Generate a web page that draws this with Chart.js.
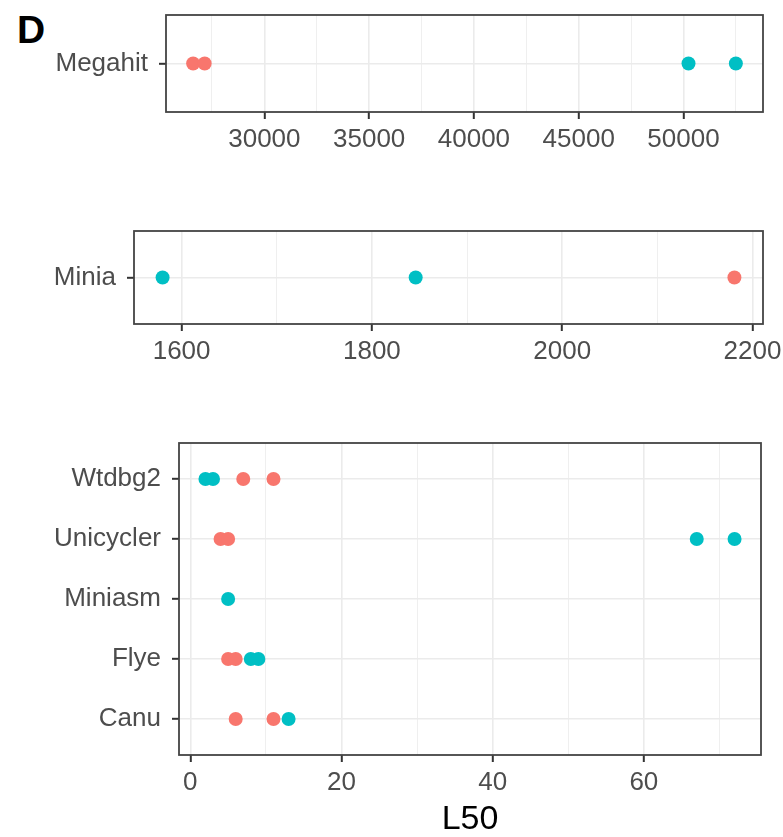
<!DOCTYPE html>
<html>
<head>
<title>L50</title>
<script src="https://cdn.jsdelivr.net/npm/chart.js"></script>
<style>
    body { margin: 0; width: 783px; height: 837px; background: #fff; position: relative; overflow: hidden; }
    canvas { position: absolute; left: 0; }
    #tag { position: absolute; left: 17px; top: 11px; font: bold 39px/38px 'Liberation Sans', Arial, sans-serif; color: #000; }
</style>
</head>
<body>
<div id="tag">D</div>
<canvas id="megahitChart" width="783" height="170" style="top:0px"></canvas>
<canvas id="miniaChart" width="783" height="170" style="top:200px"></canvas>
<canvas id="longChart" width="783" height="417" style="top:420px"></canvas>
<script>
const red = '#F8766D';
const cyan = '#00BFC4';

// Megahit panel
const megahitCategories = ['Megahit'];
const megahitRed = [[26600, 27150]];
const megahitCyan = [[50240, 52500]];
const megahitTicks = [30000, 35000, 40000, 45000, 50000];
const megahitMinor = [27500, 32500, 37500, 42500, 47500, 52500];

// Minia panel
const miniaCategories = ['Minia'];
const miniaRed = [[2181]];
const miniaCyan = [[1580, 1846]];
const miniaTicks = [1600, 1800, 2000, 2200];
const miniaMinor = [1700, 1900, 2100];

// long read assemblers, listed bottom to top
const longCategories = ['Canu', 'Flye', 'Miniasm', 'Unicycler', 'Wtdbg2'];
const longRed = [[6, 11], [5, 6], [], [4, 5], [7, 11]];
const longCyan = [[13], [8, 9], [5], [67, 72], [2, 3]];
const longTicks = [0, 20, 40, 60];
const longMinor = [10, 30, 50, 70];

const fontFamily = "'Liberation Sans', Arial, sans-serif";

function toPoints(values) {
    const pts = [];
    values.forEach((vals, i) => vals.forEach(v => pts.push({ x: v, y: i + 1 })));
    return pts;
}

// panel border drawn on top, like theme_bw
const borderPlugin = {
    id: 'panelBorder',
    afterDraw(chart) {
        const a = chart.chartArea;
        const ctx = chart.ctx;
        ctx.save();
        ctx.strokeStyle = '#444';
        ctx.lineWidth = 1.8;
        ctx.strokeRect(a.left, a.top, a.right - a.left, a.bottom - a.top);
        ctx.restore();
    }
};

function makePanel(id, cats, reds, cyans, major, minor, box, title) {
    const canvas = document.getElementById(id);
    const all = reds.flat().concat(cyans.flat());
    const lo = Math.min(...all);
    const hi = Math.max(...all);
    const pad = (hi - lo) * 0.05;
    const isMajor = v => major.includes(v);

    return new Chart(canvas, {
        type: 'scatter',
        data: {
            datasets: [
                { label: 'group 1', data: toPoints(reds), backgroundColor: red, pointRadius: 7, borderWidth: 0 },
                { label: 'group 2', data: toPoints(cyans), backgroundColor: cyan, pointRadius: 7, borderWidth: 0 }
            ]
        },
        options: {
            responsive: false,
            animation: false,
            layout: { padding: { top: box.top, right: canvas.width - box.right, left: 0, bottom: 0 } },
            plugins: { legend: { display: false }, tooltip: { enabled: false } },
            scales: {
                x: {
                    type: 'linear',
                    min: lo - pad,
                    max: hi + pad,
                    afterBuildTicks: s => {
                        s.ticks = major.concat(minor).sort((a, b) => a - b).map(v => ({ value: v }));
                    },
                    afterFit: s => {
                        s.height = canvas.height - box.bottom;
                        s.paddingLeft = 0;
                        s.paddingRight = 0;
                    },
                    ticks: {
                        autoSkip: false,
                        maxRotation: 0,
                        padding: 5,
                        color: '#4d4d4d',
                        font: { family: fontFamily, size: 26 },
                        callback: v => isMajor(v) ? String(v) : ''
                    },
                    grid: {
                        color: '#ebebeb',
                        lineWidth: c => c.tick && isMajor(c.tick.value) ? 1.6 : 0.8,
                        tickColor: c => c.tick && isMajor(c.tick.value) ? '#333' : 'rgba(0,0,0,0)',
                        tickWidth: 2,
                        tickLength: 7
                    },
                    border: { display: false },
                    title: {
                        display: !!title,
                        text: title || '',
                        color: '#000',
                        padding: 0,
                        font: { family: fontFamily, size: 34, lineHeight: 1.0 }
                    }
                },
                y: {
                    type: 'linear',
                    min: 0.4,
                    max: cats.length + 0.6,
                    afterBuildTicks: s => {
                        s.ticks = cats.map((c, i) => ({ value: i + 1 }));
                    },
                    afterFit: s => {
                        s.width = box.left;
                        s.paddingTop = 0;
                        s.paddingBottom = 0;
                    },
                    ticks: {
                        autoSkip: false,
                        padding: 11,
                        color: '#4d4d4d',
                        font: { family: fontFamily, size: 26 },
                        callback: v => cats[v - 1]
                    },
                    grid: {
                        color: '#ebebeb',
                        lineWidth: 1.6,
                        tickColor: '#333',
                        tickWidth: 2,
                        tickLength: 7
                    },
                    border: { display: false }
                }
            }
        },
        plugins: [borderPlugin]
    });
}

makePanel('megahitChart', megahitCategories, megahitRed, megahitCyan, megahitTicks, megahitMinor,
    { top: 15, left: 166, right: 763, bottom: 112 });
makePanel('miniaChart', miniaCategories, miniaRed, miniaCyan, miniaTicks, miniaMinor,
    { top: 31, left: 134, right: 763, bottom: 124 });
makePanel('longChart', longCategories, longRed, longCyan, longTicks, longMinor,
    { top: 23, left: 179, right: 761, bottom: 335 }, 'L50');
</script>
</body>
</html>
